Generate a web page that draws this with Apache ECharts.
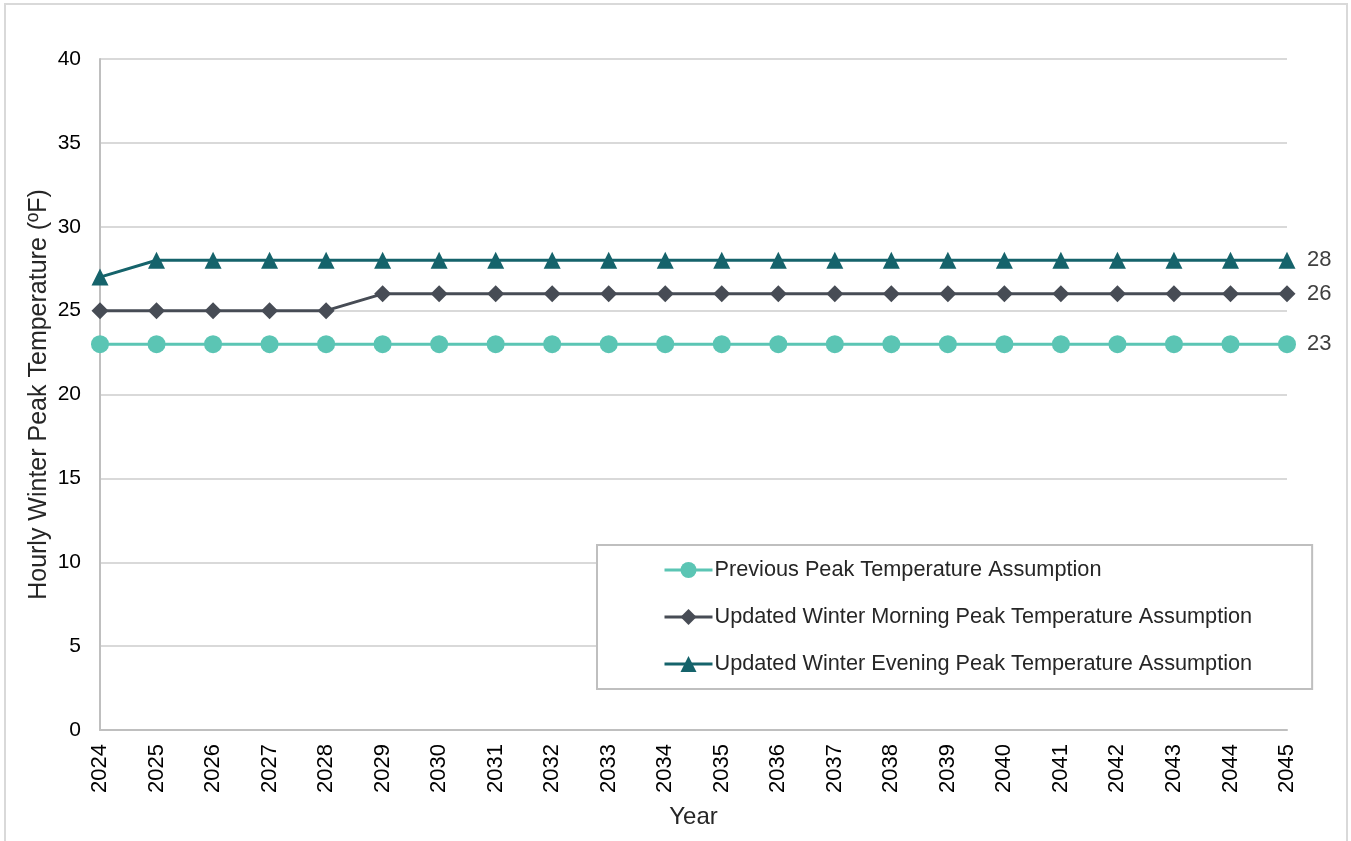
<!DOCTYPE html>
<html>
<head>
<meta charset="utf-8">
<script src="https://cdn.jsdelivr.net/npm/echarts@6/dist/echarts.min.js"></script>
<style>
html,body{margin:0;padding:0;background:#fff;}
#frame{position:absolute;left:4px;top:3px;width:1344px;height:850px;border:2px solid #d9d9d9;box-sizing:border-box;}
#chart{position:absolute;left:0;top:0;width:1351px;height:841px;}
</style>
</head>
<body>
<div id="frame"></div>
<div id="chart"></div>
<script>
const years = ['2024','2025','2026','2027','2028','2029','2030','2031','2032','2033','2034','2035','2036','2037','2038','2039','2040','2041','2042','2043','2044','2045'];
const previousPeak = [23,23,23,23,23,23,23,23,23,23,23,23,23,23,23,23,23,23,23,23,23,23];
const morningPeak = [25,25,25,25,25,26,26,26,26,26,26,26,26,26,26,26,26,26,26,26,26,26];
const eveningPeak = [27,28,28,28,28,28,28,28,28,28,28,28,28,28,28,28,28,28,28,28,28,28];
const seriesNames = ['Previous Peak Temperature Assumption','Updated Winter Morning Peak Temperature Assumption','Updated Winter Evening Peak Temperature Assumption'];
const yTicks = {min:0, max:40, interval:5};

const font = 'Arial, "Liberation Sans", sans-serif';
const chart = echarts.init(document.getElementById('chart'), null, {renderer:'canvas'});

function mk(name, data, color, symbol, size){
  return {
    name, type:'line', data, symbol, symbolSize:size, showSymbol:true,
    lineStyle:{color, width:3}, itemStyle:{color},
    animation:false,
    endLabel:{show:true, formatter:p=>p.value, color:'#404040', fontSize:22, fontFamily:font, distance:20},
    emphasis:{disabled:true}
  };
}

chart.setOption({
  backgroundColor:'transparent',
  animation:false,
  grid:{left:100, right:64, top:59, bottom:111, containLabel:false},
  xAxis:{
    type:'category', data:years, boundaryGap:false,
    name:'Year', nameLocation:'middle', nameGap:75,
    nameTextStyle:{fontSize:24, color:'#262626', fontFamily:font},
    axisLine:{show:true, lineStyle:{color:'#bfbfbf', width:2}},
    axisTick:{show:false},
    axisLabel:{rotate:90, fontSize:22, color:'#000', fontFamily:font, margin:14, interval:0},
    splitLine:{show:false}
  },
  yAxis:{
    type:'value', min:yTicks.min, max:yTicks.max, interval:yTicks.interval,
    name:'Hourly Winter Peak Temperature (ºF)', nameLocation:'middle', nameGap:48,
    nameMoveOverlap:false,
    nameTextStyle:{fontSize:25, color:'#262626', fontFamily:font},
    axisLine:{show:true, lineStyle:{color:'#bfbfbf', width:2}},
    axisTick:{show:false},
    axisLabel:{fontSize:21, color:'#000', fontFamily:font, margin:19},
    splitLine:{show:true, lineStyle:{color:'#d9d9d9', width:2}}
  },
  legend:{
    orient:'vertical', left:597, top:545,
    data:seriesNames,
    itemWidth:48, itemHeight:20, itemGap:25,
    padding:[14,60,14,66],
    borderColor:'#bfbfbf', borderWidth:2, backgroundColor:'#fff',
    lineStyle:{width:3},
    textStyle:{fontSize:21.7, color:'#262626', fontFamily:font, padding:[0,0,0,-3], lineHeight:20},
    selectedMode:false
  },
  series:[
    mk(seriesNames[0], previousPeak, '#5bc5b4', 'circle', 18),
    mk(seriesNames[1], morningPeak, '#474c55', 'diamond', 17),
    mk(seriesNames[2], eveningPeak, '#15636b', 'triangle', 17)
  ]
});
</script>
</body>
</html>
